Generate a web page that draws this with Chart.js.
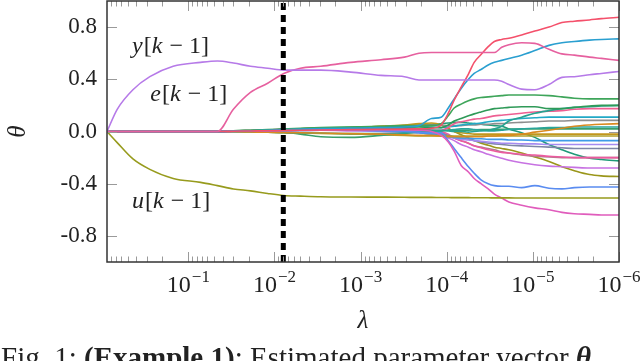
<!DOCTYPE html>
<html>
<head>
<meta charset="utf-8">
<script src="https://cdn.jsdelivr.net/npm/chart.js@4.4.1/dist/chart.umd.min.js"></script>
<style>
html, body { margin: 0; padding: 0; background: #fff; overflow: hidden; }
#wrap { position: relative; width: 640px; height: 361px; overflow: hidden; }
#caption { position: absolute; left: 1px; top: 343px; font: 29px/29px "Liberation Serif", serif; color: #222; white-space: nowrap; }
</style>
</head>
<body>
<div id="wrap">
  <canvas id="c" width="640" height="361"></canvas>
  <div id="caption">Fig. 1: <b>(Example 1)</b>: Estimated parameter vector <b><i>θ</i></b></div>
</div>
<script>
// regularisation path: lambda grid (decreasing) and parameter estimates
const lambdas = [0.88, 0.67, 0.44, 0.28, 0.15, 0.072, 0.046, 0.030, 0.019, 0.012, 0.0078, 0.0050, 0.0029, 0.0013,
  5.8e-4, 3.1e-4, 2.1e-4, 1.5e-4, 1.16e-4, 9.6e-5, 8.2e-5, 6.8e-5, 5.6e-5, 4.8e-5, 4.0e-5, 3.3e-5, 2.8e-5,
  2.3e-5, 1.9e-5, 1.35e-5, 9.5e-6, 6.5e-6, 4.6e-6, 3.3e-6, 2.2e-6, 1.6e-6, 1.0e-6];

const yTicks = [-0.8, -0.4, 0.0, 0.4, 0.8];
const xTickExps = [-1, -2, -3, -4, -5, -6];
const dashLambda = 0.0079;

// labelled regressors
const thetaY = [0, 0.17, 0.32, 0.42, 0.50, 0.53, 0.54, 0.525, 0.50, 0.485, 0.47, 0.47, 0.47, 0.455, 0.43,
  0.42, 0.395, 0.395, 0.395, 0.395, 0.395, 0.395, 0.395, 0.395, 0.395, 0.395, 0.395,
  0.385, 0.36, 0.325, 0.32, 0.36, 0.415, 0.42, 0.435, 0.445, 0.46];
const thetaE = [0, 0, 0, 0, 0, 0, 0, 0.17, 0.30, 0.37, 0.445, 0.485, 0.50, 0.53, 0.55, 0.57, 0.60,
  0.605, 0.605, 0.605, 0.605, 0.605, 0.605, 0.605, 0.605, 0.605, 0.605,
  0.645, 0.665, 0.68, 0.675, 0.63, 0.595, 0.585, 0.57, 0.56, 0.545];
const thetaU = [0, -0.085, -0.21, -0.29, -0.36, -0.39, -0.415, -0.44, -0.455, -0.475, -0.49, -0.495, -0.50,
  -0.502, -0.503, -0.504, -0.505, -0.505, -0.506, -0.506, -0.507, -0.507, -0.507, -0.508, -0.508, -0.508,
  -0.509, -0.509, -0.509, -0.51, -0.51, -0.51, -0.51, -0.51, -0.51, -0.51, -0.51];

// remaining regressors
const redTop = [0, 0, 0, 0, 0, 0, 0, 0.002, 0.004, 0.006, 0.008, 0.01, 0.012, 0.014, 0.016, 0.018, 0.02, 0.025,
  0.05, 0.14, 0.24, 0.34, 0.44, 0.53, 0.59, 0.65, 0.69, 0.705, 0.715, 0.74, 0.77, 0.80, 0.835, 0.845, 0.855, 0.865, 0.875];
const cyanTop = [0, 0, 0, 0, 0, 0, 0, 0.003, 0.006, 0.01, 0.014, 0.018, 0.022, 0.026, 0.03, 0.035, 0.045, 0.10,
  0.11, 0.18, 0.25, 0.33, 0.40, 0.445, 0.475, 0.51, 0.53, 0.545, 0.56, 0.585, 0.62, 0.66, 0.68, 0.69, 0.70, 0.705, 0.71];
const magentaLow = [0, 0, 0, 0, 0, 0, 0, 0.002, 0.004, 0.006, 0.008, 0.01, 0.012, 0.014, 0.014, 0.012, 0.01, 0,
  -0.03, -0.08, -0.15, -0.26, -0.31, -0.36, -0.40, -0.44, -0.48, -0.51, -0.54, -0.565, -0.585, -0.60, -0.62, -0.63, -0.635, -0.64, -0.64];
const blueLow = [0, 0, 0, 0, 0, 0, 0, 0.001, 0.003, 0.005, 0.007, 0.008, 0.01, 0.01, 0.005, 0, -0.005, -0.01,
  -0.01, -0.07, -0.13, -0.20, -0.27, -0.32, -0.37, -0.40, -0.415, -0.42, -0.42, -0.43, -0.415, -0.435, -0.44, -0.43, -0.425, -0.425, -0.425];
const greenA = [0, 0, 0, 0, 0, 0, 0, 0.005, 0.01, 0.015, 0.02, 0.025, 0.03, 0.035, 0.04, 0.045, 0.045, 0.045,
  0.06, 0.12, 0.18, 0.21, 0.235, 0.25, 0.26, 0.265, 0.27, 0.275, 0.28, 0.28, 0.28, 0.275, 0.265, 0.255, 0.25, 0.25, 0.25];
const greenB = [0, 0, 0, 0, 0, 0, 0, 0.005, 0.008, 0.012, 0.015, 0.02, 0.025, 0.03, 0.035, 0.035, 0.035, 0.03,
  0.03, 0.05, 0.08, 0.10, 0.12, 0.135, 0.15, 0.165, 0.175, 0.18, 0.185, 0.19, 0.19, 0.175, 0.175, 0.185, 0.195, 0.20, 0.20];
const tealC = [0, 0, 0, 0, 0, 0, 0, 0.002, 0.005, 0.008, 0.01, 0.012, 0.015, 0.02, 0.02, 0.02, 0.015, 0.01,
  0.01, 0.005, 0, 0, -0.005, 0, 0.005, 0.01, 0.02, 0.04, 0.08, 0.11, 0.14, 0.16, 0.175, 0.185, 0.19, 0.195, 0.20];
const pinkD = [0, 0, 0, 0, 0, 0, 0, 0.003, 0.006, 0.01, 0.012, 0.015, 0.018, 0.02, 0.02, 0.02, 0.015, 0.01,
  0.01, 0.03, 0.06, 0.075, 0.085, 0.095, 0.10, 0.11, 0.12, 0.125, 0.13, 0.14, 0.15, 0.155, 0.16, 0.17, 0.175, 0.175, 0.175];
const cyanE = [0, 0, 0, 0, 0, 0, 0, 0.003, 0.006, 0.01, 0.015, 0.02, 0.025, 0.03, 0.035, 0.04, 0.04, 0.035,
  0.03, 0.035, 0.04, 0.05, 0.055, 0.06, 0.065, 0.075, 0.08, 0.085, 0.09, 0.10, 0.105, 0.11, 0.11, 0.11, 0.11, 0.11, 0.11];
const grayF = [0, 0, 0, 0, 0, 0, 0, 0.004, 0.008, 0.012, 0.016, 0.02, 0.025, 0.03, 0.035, 0.04, 0.045, 0.05,
  0.05, 0.045, 0.045, 0.045, 0.05, 0.05, 0.055, 0.055, 0.06, 0.06, 0.065, 0.07, 0.075, 0.08, 0.08, 0.085, 0.085, 0.085, 0.085];
const orangeG = [0, 0, 0, 0, 0, 0, 0, -0.002, -0.004, -0.006, -0.008, -0.01, -0.012, -0.015, -0.02, -0.025, -0.03, -0.03,
  -0.035, -0.04, -0.04, -0.04, -0.04, -0.04, -0.04, -0.035, -0.035, -0.03, -0.03, -0.02, -0.005, 0.01, 0.025, 0.04, 0.05, 0.055, 0.06];
const tealH = [0, 0, 0, 0, 0, 0, 0, -0.002, -0.004, -0.006, -0.008, -0.01, -0.012, -0.015, -0.015, -0.01, -0.005, 0,
  0.005, 0.01, 0.015, 0.02, 0.02, 0.015, 0.01, 0.005, 0.005, 0.01, 0.015, 0.02, 0.025, 0.03, 0.03, 0.035, 0.035, 0.035, 0.035];
const greenI = [0, 0, 0, 0, 0, 0, 0, 0, 0, -0.003, -0.008, -0.02, -0.04, -0.045, -0.03, -0.015, -0.005, 0,
  0.005, 0.01, 0.01, 0.01, 0.01, 0.012, 0.014, 0.015, 0.016, 0.017, 0.018, 0.019, 0.02, 0.02, 0.02, 0.02, 0.02, 0.02, 0.02];
const goldJ = [0, 0, 0, 0, 0, 0, 0, 0.003, 0.006, 0.01, 0.015, 0.02, 0.025, 0.03, 0.04, 0.05, 0.06, 0.065,
  0.05, 0.02, 0, -0.01, -0.015, -0.02, -0.02, -0.02, -0.02, -0.02, -0.02, -0.02, -0.02, -0.02, -0.02, -0.02, -0.02, -0.02, -0.02];
const goldK = [0, 0, 0, 0, 0, 0, 0, 0, 0, -0.005, -0.01, -0.012, -0.015, -0.02, -0.025, -0.03, -0.035, -0.035,
  -0.035, -0.035, -0.035, -0.035, -0.035, -0.035, -0.035, -0.035, -0.035, -0.035, -0.035, -0.035, -0.035, -0.035, -0.035, -0.035, -0.035, -0.035, -0.035];
const blueL = [0, 0, 0, 0, 0, 0, 0, 0.002, 0.004, 0.006, 0.008, 0.01, 0.012, 0.015, 0.01, 0, -0.01, -0.02,
  -0.03, -0.04, -0.045, -0.05, -0.05, -0.055, -0.055, -0.06, -0.06, -0.06, -0.065, -0.065, -0.07, -0.07, -0.07, -0.07, -0.07, -0.07, -0.07];
const purpleM = [0, 0, 0, 0, 0, 0, 0, 0.002, 0.004, 0.006, 0.008, 0.01, 0.01, 0.01, 0.005, 0, -0.01, -0.02,
  -0.03, -0.04, -0.05, -0.06, -0.065, -0.07, -0.075, -0.08, -0.085, -0.09, -0.09, -0.095, -0.095, -0.10, -0.10, -0.10, -0.10, -0.10, -0.10];
const grayBlueN = [0, 0, 0, 0, 0, 0, 0, 0.001, 0.003, 0.005, 0.006, 0.008, 0.01, 0.012, 0.01, 0.005, 0, -0.01,
  -0.02, -0.03, -0.04, -0.05, -0.06, -0.07, -0.08, -0.09, -0.095, -0.10, -0.105, -0.11, -0.115, -0.12, -0.125, -0.13, -0.13, -0.13, -0.13];
const pinkO = [0, 0, 0, 0, 0, 0, 0, 0.004, 0.008, 0.012, 0.016, 0.02, 0.024, 0.028, 0.03, 0.025, 0.02, 0.01,
  0, -0.02, -0.05, -0.07, -0.09, -0.11, -0.125, -0.14, -0.15, -0.16, -0.165, -0.175, -0.18, -0.19, -0.195, -0.20, -0.20, -0.20, -0.20];
const brownP = [0, 0, 0, 0, 0, 0, 0, 0.001, 0.002, 0.004, 0.006, 0.008, 0.01, 0.012, 0.012, 0.01, 0.005, 0,
  -0.01, -0.03, -0.05, -0.07, -0.09, -0.11, -0.12, -0.13, -0.14, -0.155, -0.165, -0.18, -0.19, -0.195, -0.20, -0.20, -0.20, -0.20, -0.20];
const tealQ = [0, 0, 0, 0, 0, 0, 0, 0.002, 0.004, 0.006, 0.008, 0.01, 0.012, 0.015, 0.02, 0.03, 0.04, 0.05,
  0.06, 0.065, 0.07, 0.07, 0.065, 0.06, 0.055, 0.05, 0.045, 0.04, 0.02, -0.01, -0.045, -0.10, -0.14, -0.175, -0.205, -0.215, -0.225];
const purpleR = [0, 0, 0, 0, 0, 0, 0, 0.002, 0.004, 0.006, 0.008, 0.01, 0.01, 0.005, 0, -0.005, -0.01, -0.015,
  -0.03, -0.05, -0.07, -0.10, -0.12, -0.14, -0.155, -0.175, -0.19, -0.205, -0.22, -0.24, -0.255, -0.265, -0.27, -0.275, -0.28, -0.28, -0.28];
const oliveS = [0, 0, 0, 0, 0, 0, 0, 0.003, 0.006, 0.01, 0.015, 0.02, 0.025, 0.03, 0.04, 0.045, 0.05, 0.055,
  0.05, 0.025, 0, -0.025, -0.05, -0.07, -0.09, -0.105, -0.12, -0.13, -0.14, -0.165, -0.195, -0.23, -0.27, -0.30, -0.33, -0.34, -0.345];

// drawn first-listed on top
const series = [
  [thetaY, "#b67ae8"], [thetaE, "#e6609f"], [thetaU, "#979b1d"],
  [redTop, "#f4506b"], [cyanTop, "#2a9fd0"], [magentaLow, "#e05cbc"], [blueLow, "#5a8cf0"],
  [greenA, "#3ea55a"], [greenB, "#2f9a58"], [tealC, "#27a390"], [pinkD, "#ee5f92"], [cyanE, "#22a9c6"],
  [grayF, "#8e8e8e"], [orangeG, "#d98a1f"], [tealH, "#2aa59a"], [greenI, "#3a9f6a"], [goldJ, "#c2961c"],
  [goldK, "#b0a02a"], [blueL, "#3f9ae8"], [purpleM, "#a58bf0"], [grayBlueN, "#7e86a8"], [pinkO, "#ec5aa0"],
  [brownP, "#b07f8a"], [tealQ, "#1f9a78"], [purpleR, "#c772e2"], [oliveS, "#9a961a"]
];

const annotations = [
  { parts: [["y", true], ["[", false], ["k", true], [" − 1]", false]], lam: 0.45, theta: 0.60 },
  { parts: [["e", true], ["[", false], ["k", true], [" − 1]", false]], lam: 0.276, theta: 0.23 },
  { parts: [["u", true], ["[", false], ["k", true], [" − 1]", false]], lam: 0.45, theta: -0.59 }
];

const SERIF = '"Liberation Serif", "DejaVu Serif", serif';

const datasets = [{
  data: [{ x: dashLambda, y: -1 }, { x: dashLambda, y: 1 }],
  borderColor: "#000", borderWidth: 5, borderDash: [7, 5], cubicInterpolationMode: "default"
}];
series.forEach(([vals, color]) => {
  datasets.push({
    data: lambdas.map((l, i) => ({ x: l, y: vals[i] })),
    borderColor: color,
    borderWidth: 1.6,
    cubicInterpolationMode: "monotone"
  });
});

const framePlugin = {
  id: "frame",
  afterDraw(chart) {
    const { ctx, chartArea: a, scales } = chart;
    const xs = scales.x, ys = scales.y;
    ctx.save();

    // tick marks, inward on all four sides
    ctx.strokeStyle = "#9a9a9a";
    ctx.lineWidth = 1;
    ctx.beginPath();
    for (let e = -6; e <= 0; e++) {
      for (let m = 1; m <= 9; m++) {
        const v = m * Math.pow(10, e);
        if (v < xs.min || v > xs.max) continue;
        const px = Math.round(xs.getPixelForValue(v)) + 0.5;
        const len = m === 1 ? 10 : 5.5;
        ctx.moveTo(px, a.bottom); ctx.lineTo(px, a.bottom - len);
        ctx.moveTo(px, a.top); ctx.lineTo(px, a.top + len);
      }
    }
    yTicks.forEach(v => {
      const py = Math.round(ys.getPixelForValue(v)) + 0.5;
      ctx.moveTo(a.left, py); ctx.lineTo(a.left + 10, py);
      ctx.moveTo(a.right, py); ctx.lineTo(a.right - 10, py);
    });
    ctx.stroke();

    // axis box
    ctx.strokeStyle = "#333";
    ctx.lineWidth = 1.5;
    ctx.strokeRect(a.left, a.top, a.right - a.left, a.bottom - a.top);

    // x tick labels 10^n
    ctx.fillStyle = "#222";
    ctx.textBaseline = "alphabetic";
    ctx.textAlign = "left";
    xTickExps.forEach(e => {
      const px = xs.getPixelForValue(Math.pow(10, e));
      ctx.font = "24px " + SERIF;
      const w1 = ctx.measureText("10").width;
      const sup = "−" + (-e);
      ctx.font = "17px " + SERIF;
      const w2 = ctx.measureText(sup).width;
      const x0 = px - (w1 + w2 + 1) / 2;
      ctx.font = "24px " + SERIF;
      ctx.fillText("10", x0, 292);
      ctx.font = "17px " + SERIF;
      ctx.fillText(sup, x0 + w1 + 1, 282);
    });

    // axis titles
    ctx.font = "italic 25px " + SERIF;
    ctx.textAlign = "center";
    ctx.fillText("λ", (a.left + a.right) / 2, 328);
    ctx.save();
    ctx.translate(18, (a.top + a.bottom) / 2);
    ctx.rotate(-Math.PI / 2);
    ctx.textBaseline = "middle";
    ctx.fillText("θ", 0, 0);
    ctx.restore();

    // curve labels
    ctx.textAlign = "left";
    annotations.forEach(an => {
      let x = xs.getPixelForValue(an.lam);
      const y = ys.getPixelForValue(an.theta);
      an.parts.forEach(([t, it]) => {
        ctx.font = (it ? "italic " : "") + "24px " + SERIF;
        ctx.fillText(t, x, y);
        x += ctx.measureText(t).width + (it ? 1 : 0);
      });
    });
    ctx.restore();
  }
};

new Chart(document.getElementById("c").getContext("2d"), {
  type: "line",
  data: { datasets },
  options: {
    responsive: false,
    animation: false,
    layout: { padding: { left: 0, right: 21, top: 1, bottom: 0 } },
    plugins: { legend: { display: false }, tooltip: { enabled: false } },
    elements: { point: { radius: 0 } },
    scales: {
      x: {
        type: "logarithmic",
        reverse: true,
        min: lambdas[lambdas.length - 1],
        max: lambdas[0],
        grid: { display: false },
        border: { display: false },
        ticks: { display: false },
        afterFit: s => { s.height = 99; s.paddingLeft = 0; s.paddingRight = 0; }
      },
      y: {
        min: -1,
        max: 1,
        grid: { display: false, drawTicks: false },
        border: { display: false },
        ticks: {
          font: { family: SERIF, size: 23 },
          color: "#222",
          padding: 10,
          callback: v => Number(v).toFixed(1)
        },
        afterBuildTicks: s => { s.ticks = yTicks.map(v => ({ value: v })); },
        afterFit: s => { s.width = 107; s.paddingTop = 0; s.paddingBottom = 0; }
      }
    }
  },
  plugins: [framePlugin]
});
</script>
</body>
</html>
